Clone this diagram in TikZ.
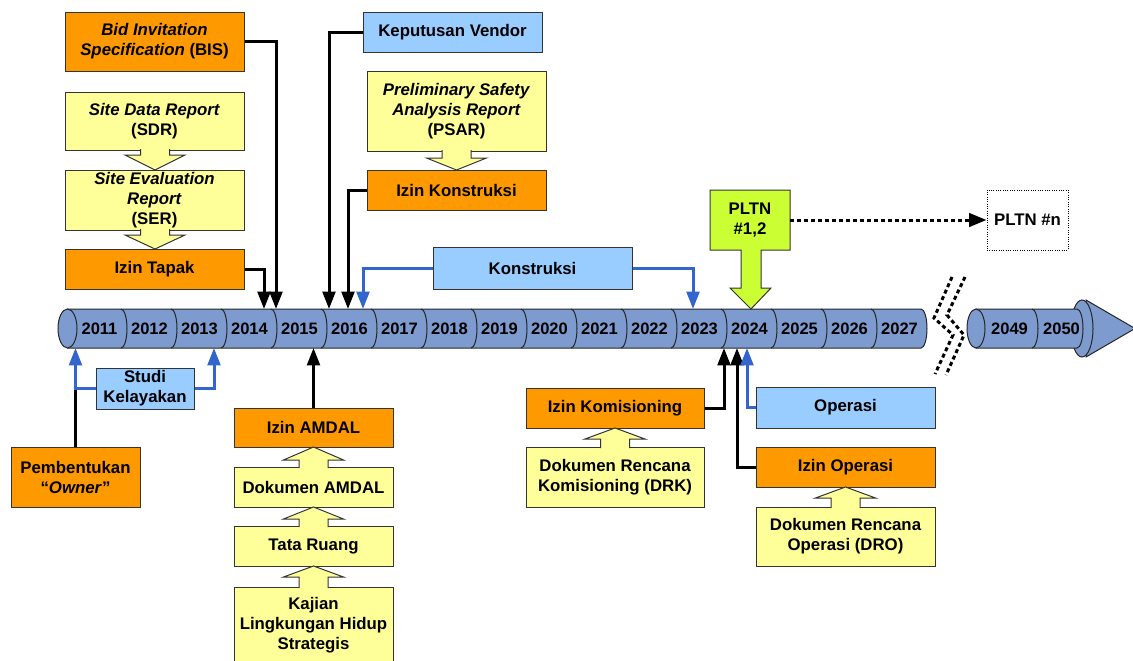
\documentclass[tikz,border=0pt]{standalone}
\usepackage{fontspec}
\setmainfont{Liberation Sans}
\usetikzlibrary{arrows.meta}
\definecolor{cyl}{RGB}{125,155,206}
\definecolor{org}{RGB}{255,153,0}
\definecolor{yel}{RGB}{255,255,153}
\definecolor{lbl}{RGB}{153,204,255}
\definecolor{grn}{RGB}{204,255,51}
\definecolor{conn}{RGB}{51,102,204}
\newcommand\tf{\fontsize{12.6}{15}\selectfont\bfseries}
\newcommand\mkbox[7]{\node[#2, minimum width={(#5-#3)*0.75pt}, minimum height={(#6-#4)*0.75pt}] (#1) at ({(#3+#5)/2},{(#4+#6)/2}) {#7};}
\newcommand\dnarr[4]{\filldraw[harr] ({#1-14.5},#2) -- ({#1-14.5},#3) -- ({#1-30},#3) -- (#1,#4) -- ({#1+30},#3) -- ({#1+14.5},#3) -- ({#1+14.5},#2);}
\begin{document}
\begin{tikzpicture}[x=0.75pt,y=-0.75pt,
  txt/.style={inner sep=0pt, align=center, font=\tf},
  bx/.style={txt, draw=black!80, line width=0.75pt},
  obox/.style={bx, fill=org},
  ybox/.style={bx, fill=yel},
  bbox/.style={bx, fill=lbl},
  nbox/.style={txt, draw=black, densely dotted, line width=0.75pt, fill=white},
  gbox/.style={draw=black!80, line width=0.75pt, fill=grn},
  harr/.style={fill=yel, draw=black!80, line width=0.75pt},
  cylf/.style={fill=cyl, draw=black!85, line width=0.75pt},
  cyll/.style={draw=black!85, line width=0.75pt},
  yr/.style={inner sep=0pt, font=\fontsize{12.4}{14}\selectfont\bfseries},
  blkline/.style={line width=2.25pt},
  blk/.style={line width=2.25pt, -{Triangle[length=13pt,width=9.5pt]}},
  blu/.style={blk, draw=conn},
  dotc/.style={line width=2.25pt, dash pattern=on 3pt off 2.25pt, -{Triangle[length=13pt,width=10pt]}},
  brk/.style={line width=2.25pt, dash pattern=on 3pt off 2.25pt}]
\useasboundingbox (0,0) rectangle (1133,661);
\clip (0,0) rectangle (1133,661);

% ---- left timeline cylinder
\path[cylf] (67.5,309) -- (921,309) arc[start angle=-90,end angle=90,x radius=6,y radius=19.5] -- (67.5,348) -- cycle;
\path[cylf] (67.5,328.5) ellipse [x radius=9.5, y radius=19.5];
\foreach \k in {1,...,16} {\draw[cyll] ({77+50*\k-6},309) arc[start angle=-90,end angle=90,x radius=6,y radius=19.5];}
\foreach \yy [count=\i from 0] in {2011,...,2027} {\node[yr] (y\yy) at ({99.5+50*\i},328.5) {\yy};}

% ---- right timeline cylinder with arrow head
\path[cylf] (1086,300) -- (1135,328.5) -- (1086,357) -- cycle;
\path[cylf] (1082,328.5) ellipse [x radius=11, y radius=28.5];
\path[cylf] (976,309) -- (1077,309) arc[start angle=-90,end angle=90,x radius=6,y radius=19.5] -- (976,348) -- cycle;
\path[cylf] (976,328.5) ellipse [x radius=9, y radius=19.5];
\draw[cyll] (1032,309) arc[start angle=-90,end angle=90,x radius=6,y radius=19.5];
\node[yr] (y2049) at (1009.5,328.5) {2049};
\node[yr] (y2050) at (1061.5,328.5) {2050};

% ---- break marks
\draw[brk] (952,277) -- (934,318) -- (953,335) -- (935,374);
\draw[brk] (965,277) -- (947,315) -- (964,335) -- (946,375);

% ---- boxes above
\mkbox{bis}{obox}{65}{12}{244}{71}{\textit{Bid Invitation}\\\textit{Specification} (BIS)}
\mkbox{sdr}{ybox}{65}{92}{244}{150}{\textit{Site Data Report}\\(SDR)}
\mkbox{ser}{ybox}{65}{170}{244}{230}{\textit{Site Evaluation}\\\textit{Report}\\(SER)}
\mkbox{tapak}{obox}{65}{249}{244}{289}{Izin Tapak}
\mkbox{vendor}{bbox}{363}{12}{542}{52}{Keputusan Vendor}
\mkbox{psar}{ybox}{367}{71}{546}{151}{\textit{Preliminary Safety}\\\textit{Analysis Report}\\(PSAR)}
\mkbox{ikons}{obox}{367}{170}{546}{210}{Izin Konstruksi}
\mkbox{kons}{bbox}{433}{247}{632}{289}{Konstruksi}
\draw[gbox] (710,190) -- (790,190) -- (790,250) -- (761,250) -- (761,288) -- (771,288) -- (751,309) -- (730,288) -- (741,288) -- (741,250) -- (710,250) -- cycle;
\mkbox{pltn}{txt}{710}{190}{790}{250}{PLTN\\\#1,2}
\mkbox{pltnn}{nbox}{987}{190}{1068}{250}{PLTN \#n}

% ---- boxes below
\mkbox{pemb}{obox}{11}{447}{140}{507}{Pembentukan\\“\textit{Owner}”}
\mkbox{studi}{bbox}{96}{368}{194}{409}{Studi\\Kelayakan}
\mkbox{amdal}{obox}{234}{408}{393}{447}{Izin AMDAL}
\mkbox{damdal}{ybox}{234}{467}{393}{507}{Dokumen AMDAL}
\mkbox{tata}{ybox}{234}{526}{393}{566}{Tata Ruang}
\mkbox{klhs}{ybox}{234}{587}{393}{663}{Kajian\\Lingkungan Hidup\\Strategis}
\mkbox{ikom}{obox}{526}{388}{704}{428}{Izin Komisioning}
\mkbox{drk}{ybox}{526}{447}{704}{507}{Dokumen Rencana\\Komisioning (DRK)}
\mkbox{oper}{bbox}{756}{387}{935}{428}{Operasi}
\mkbox{iop}{obox}{756}{447}{935}{487}{Izin Operasi}
\mkbox{dro}{ybox}{756}{507}{935}{566}{Dokumen Rencana\\Operasi (DRO)}

% ---- hollow block arrows
\dnarr{155}{149}{155}{170}
\dnarr{155}{229}{235}{249}
\dnarr{456.5}{150}{158}{170}
\dnarr{313.5}{468}{460}{447}
\dnarr{313.5}{527}{519}{507}
\dnarr{313.5}{588}{577}{566}
\dnarr{615}{448}{439}{428}
\dnarr{845.5}{508}{498}{487}

% ---- connector end points on the timeline
\coordinate (a1) at (264,309);
\coordinate (a2) at (276,309);
\coordinate (a3) at (329,309);
\coordinate (a4) at (348,309);
\coordinate (a5) at (363,309);
\coordinate (a6) at (693,309);
\coordinate (b1) at (75.5,348);
\coordinate (b2) at (214,348);
\coordinate (b3) at (313.5,348);
\coordinate (b4) at (724,348);
\coordinate (b5) at (737,348);
\coordinate (b6) at (747,348);
\coordinate (j1) at (75.5,388.5);

% ---- connectors
\draw[blk] (tapak.east) -| (a1);
\draw[blk] (bis.east) -| (a2);
\draw[blk] (vendor.west) -| (a3);
\draw[blk] (ikons.west) -| (a4);
\draw[blu] (kons.west) -| (a5);
\draw[blu] (kons.east) -| (a6);
\draw[dotc] (pltn.east) -- (pltnn.west);
\draw[blkline] (pemb.north) -- (j1);
\draw[blu] (studi.west) -| (b1);
\draw[blu] (studi.east) -| (b2);
\draw[blk] (amdal.north) -- (b3);
\draw[blk] (ikom.east) -| (b4);
\draw[blk] (iop.west) -| (b5);
\draw[blu] (oper.west) -| (b6);
\end{tikzpicture}
\end{document}
